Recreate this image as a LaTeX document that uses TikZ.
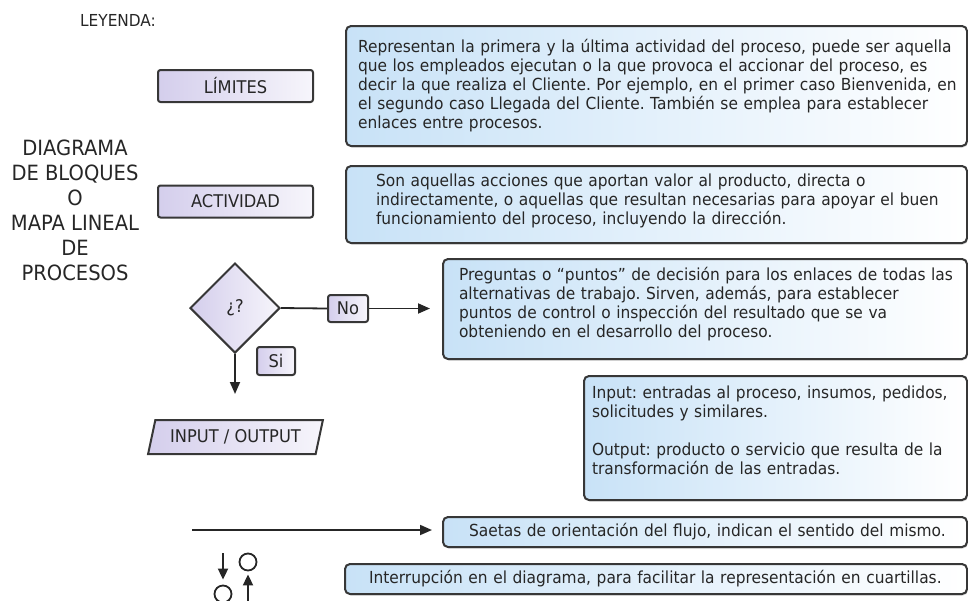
\documentclass[tikz,border=0pt]{standalone}
\usepackage{fontspec}
\setmainfont{DejaVu Sans}[FakeStretch=0.93]
\usetikzlibrary{shapes.geometric,arrows.meta,shadows}
\definecolor{borde}{RGB}{55,55,55}
\definecolor{texto}{RGB}{38,38,38}
\definecolor{lila}{RGB}{212,206,236}
\definecolor{celeste}{RGB}{200,226,247}
\newcommand\sangria[1]{\frenchspacing\leftskip=#1\rightskip=0pt plus 1fil minus 80pt\relax}

\begin{document}
\begin{tikzpicture}[x=1pt,y=-1pt,
	every node/.style={text=texto},
	simbolo/.style={draw=borde,line width=2pt,rounded corners=2.5pt,left color=lila,right color=lila!20,inner sep=0pt,font=\fontsize{17.5}{20}\selectfont},
	nota/.style={draw=borde,line width=2pt,rounded corners=5pt,left color=celeste,right color=white,anchor=north west,inner xsep=0pt,inner ysep=0pt,align=left,font=\fontsize{16.6}{19}\selectfont,drop shadow={shadow xshift=1pt,shadow yshift=-1.5pt,opacity=.3}},
	flecha/.style={line width=1.8pt,draw=black!85,-{Triangle[length=12pt,width=10pt]}},
	linea/.style={line width=1.8pt,draw=black!85},
	conector/.style={circle,draw=black!85,line width=1.8pt,minimum size=17pt,inner sep=0pt}]
	\path[use as bounding box] (0,0) rectangle (968,600);
	\clip (0,0) rectangle (968,600);
	\node[font=\fontsize{16.5}{18}\selectfont] (leyenda) at (118,20) {LEYENDA:};
	\node[align=center,font=\fontsize{21}{25}\selectfont] (titulo) at (75,210) {DIAGRAMA\\DE BLOQUES\\O\\MAPA LINEAL\\DE\\PROCESOS};
	\node[simbolo,minimum width=155pt,minimum height=32pt] (limites) at (235.5,86) {LÍMITES};
	\node[simbolo,minimum width=155pt,minimum height=32pt] (actividad) at (235.5,201.5) {ACTIVIDAD};
	\node[simbolo,diamond,rounded corners=0pt,minimum width=90pt,minimum height=90pt] (decision) at (235,308) {¿?};
	\node[simbolo,minimum width=40pt,minimum height=27pt] (no) at (348,308.5) {No};
	\node[simbolo,minimum width=38pt,minimum height=28pt] (si) at (276,361) {Si};
	\node[simbolo,trapezium,rounded corners=0pt,trapezium left angle=68,trapezium right angle=112,trapezium stretches=true,minimum width=175pt,minimum height=34pt] (io) at (235.5,437) {INPUT / OUTPUT};
	\node[nota,text width=621pt,minimum height=120pt] (limitesnota) at (345,25) {\sangria{12pt}Representan la primera y la última actividad del proceso, puede ser aquella\\que los empleados ejecutan o la que provoca el accionar del proceso, es\\decir la que realiza el Cliente. Por ejemplo, en el primer caso Bienvenida, en\\el segundo caso Llegada del Cliente. También se emplea para establecer\\enlaces entre procesos.\par};
	\node[nota,text width=621pt,minimum height=77pt] (actividadnota) at (345,165) {\sangria{30pt}Son aquellas acciones que aportan valor al producto, directa o\\indirectamente, o aquellas que resultan necesarias para apoyar el buen\\funcionamiento del proceso, incluyendo la dirección.\par\vspace*{8pt}};
	\node[nota,text width=524pt,minimum height=100pt] (preguntas) at (442,258) {\sangria{16pt}Preguntas o “puntos” de decisión para los enlaces de todas las\\alternativas de trabajo. Sirven, además, para establecer\\puntos de control o inspección del resultado que se va\\obteniendo en el desarrollo del proceso.\par\vspace*{10pt}};
	\node[nota,text width=383pt,minimum height=124pt] (ionota) at (583,375) {\sangria{8pt}Input: entradas al proceso, insumos, pedidos,\\solicitudes y similares.\\[19pt]Output: producto o servicio que resulta de la\\transformación de las entradas.\par\vspace*{16pt}};
	\node[nota,text width=524pt,minimum height=30pt] (saetas) at (442,516) {\sangria{26pt}Saetas de orientación del flujo, indican el sentido del mismo.\par};
	\node[nota,text width=622pt,minimum height=30pt] (interrupcion) at (344,563) {\sangria{24pt}Interrupción en el diagrama, para facilitar la representación en cuartillas.\par};
	\draw[linea] (decision.east) -- (no.west);
	\draw[flecha,shorten >=12pt] (no.east) -- (no.east -| preguntas.west);
	\draw[flecha,shorten >=25pt] (decision.south) -- (decision.south |- io.north);
	\coordinate (inicio) at (192,530);
	\draw[flecha,shorten >=10pt] (inicio) -- (inicio -| saetas.west);
	\node[conector] (circa) at (223,594) {};
	\node[conector] (circb) at (248,562) {};
	\coordinate (bajaa) at (223,553);
	\coordinate (subeb) at (248,612);
	\draw[flecha,-{Triangle[length=11pt,width=10pt]},shorten >=5pt] (bajaa) -- (circa.north);
	\draw[flecha,-{Triangle[length=11pt,width=10pt]},shorten >=3pt] (subeb) -- (circb.south);
\end{tikzpicture}
\end{document}
